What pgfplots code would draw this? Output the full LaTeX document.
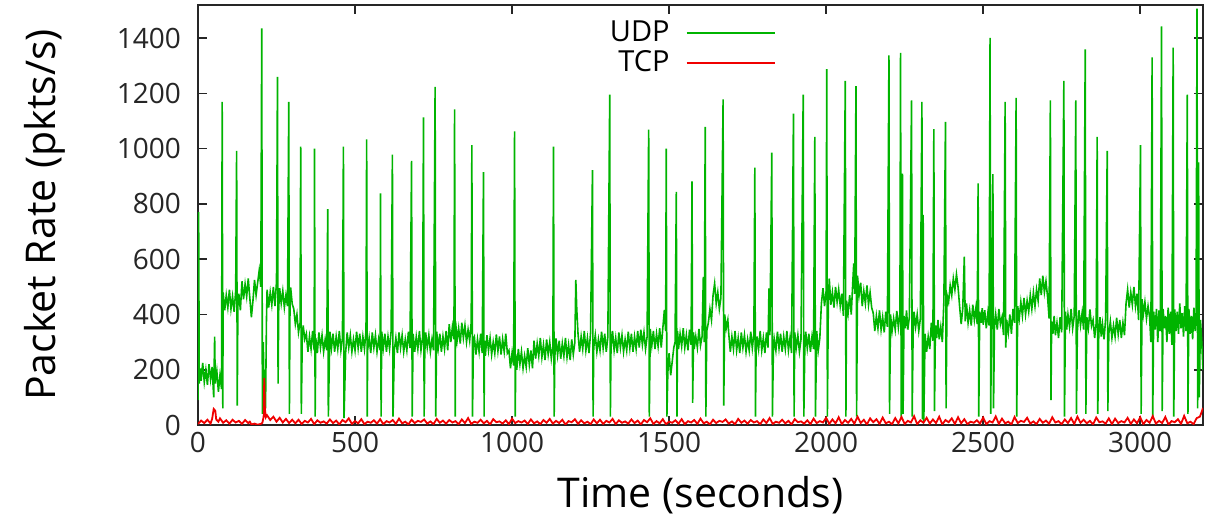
\documentclass[border=0pt]{standalone}
\usepackage{fontspec}
\setmainfont{Open Sans}
\usepackage{pgfplots}
\pgfplotsset{compat=1.18}
\definecolor{udpgreen}{RGB}{0,180,0}
\definecolor{tcpred}{RGB}{240,0,0}
\begin{document}
\begin{tikzpicture}
\begin{axis}[
 name=ax,
 scale only axis, width=502.5pt, height=210pt,
 xmin=0, xmax=3200, ymin=0, ymax=1520,
 xtick={0,500,...,3000}, ytick={0,200,...,1400},
 tick align=inside, major tick length=4.5pt,
 axis line style={line width=0.8pt, black!85},
 every tick/.style={black!85, line width=0.8pt},
 /pgf/number format/assume math mode=true,
 /pgf/number format/1000 sep={},
 tick label style={font=\fontsize{14}{16}\selectfont, black!85},
 yticklabel style={xshift=-5pt},
 xlabel={Time (seconds)}, ylabel={Packet Rate (pkts/s)},
 label style={font=\fontsize{20.5}{24}\selectfont},
 xlabel style={at={(axis description cs:0.5,-0.167)}, anchor=center},
 ylabel style={at={(axis description cs:-0.1522,0.5)}, anchor=center},
 legend plot pos=right,
 legend cell align=right,
 legend style={draw=none, fill=none, at={(axis description cs:0.575,0.972)}, anchor=north east,
   font=\fontsize{14.5}{17}\selectfont, row sep=-1pt, inner sep=0pt, column sep=6pt},
 legend image code/.code={\draw[#1] (0pt,0pt) -- (44pt,0pt);},
]
\addlegendimage{udpgreen, line width=0.9pt}
\addlegendentry{UDP}
\addlegendimage{tcpred, line width=0.9pt}
\addlegendentry{TCP}
\addplot[udpgreen, line width=0.8pt, forget plot] coordinates {
(0,90) (2,770) (4,150) (7,205) (10,160) (15,225) (20,155) (25,200) (30,145) (35,220) (40,165) (45,210) (50,100) (53,320) (55,150) (60,195) (65,120) (70,180) (75,130) (77,1169) (79,60)
(80,480) (85,415) (90,470) (95,425) (100,490) (105,420) (110,465) (115,410) (120,485) (123,992) (125,70) (127,430) (130,475) (135,415)
(140,520) (145,455) (150,510) (155,465) (160,530) (165,460) (170,390) (175,450) (180,525) (185,470) (190,515) (195,560) (200,500) (203,1435) (205,40)
(208,300) (210,120) (213,200) (215,60) (218,380)
(220,490) (225,425) (230,480) (235,435) (240,500) (245,430) (250,520) (253,1260) (255,150) (257,420) (260,495) (265,440) (270,485) (275,425) (280,470) (285,430) (289,1169) (291,40) (293,438) (295,498) (300,438)
(305,420) (310,365) (315,400) (320,335) (325,370) (327,1007) (329,40) (332,320) (335,360) (340,310)
(345,330) (350,265) (355,320) (360,275) (365,340) (370,270) (371,1000) (373,30) (375,315) (380,260) (385,335) (390,280) (395,325) (400,265) (405,310) (410,270) (413,781) (415,30)
(420,338) (425,278) (430,330) (435,265) (440,320) (445,275) (450,340) (455,270) (460,315) (463,1007) (465,25) (470,260) (475,335) (480,280) (485,325) (490,265) (495,310) (500,270) (505,338) (510,278)
(515,330) (520,265) (525,320) (530,275) (535,340) (537,1034) (539,30) (540,270) (545,315) (550,260) (555,335) (560,280) (565,325) (570,265) (575,310) (580,270) (581,838) (583,30) (585,338) (590,278)
(595,330) (600,265) (605,320) (610,275) (615,340) (619,978) (621,30) (625,270) (630,315) (635,260) (640,335) (645,280) (650,325) (655,265) (660,310) (665,270) (670,338) (675,278) (680,956) (682,30)
(685,330) (690,265) (695,320) (700,275) (705,340) (710,270) (715,315) (718,1113) (720,30) (722,260) (725,335) (730,280) (735,325) (740,265) (745,310) (750,270) (755,1224) (757,30)
(760,338) (765,278) (770,330) (775,265) (780,320) (785,275) (790,340) (795,270)
(800,365) (805,300) (810,355) (815,310) (817,1142) (819,30) (820,375) (825,305) (830,350) (835,295) (840,370) (845,315) (850,360) (855,300) (860,345) (865,305) (870,373) (872,1013) (874,30) (877,313)
(880,320) (885,255) (890,310) (895,265) (900,330) (905,260) (909,915) (911,30) (912,305) (915,250) (920,325) (925,270) (930,315) (935,255) (940,300) (945,260) (950,328) (955,268) (960,320) (965,255) (970,310) (975,265) (980,330) (985,260)
(990,270) (995,205) (1000,260) (1005,215) (1008,1063) (1010,30) (1012,255) (1015,200) (1020,275) (1025,220) (1030,265) (1035,205) (1040,250) (1045,210) (1050,278) (1055,218) (1060,270) (1065,205)
(1070,305) (1075,240) (1080,295) (1085,250) (1090,315) (1095,245) (1100,290) (1105,235) (1110,310) (1115,255) (1120,300) (1125,240) (1130,285) (1132,1007) (1134,30) (1136,245) (1140,313) (1145,253)
(1150,305) (1155,240) (1160,295) (1165,250) (1170,315) (1175,245) (1180,290) (1185,235) (1190,310) (1195,255) (1200,300) (1203,525) (1206,420)
(1210,330) (1215,265) (1220,320) (1225,275) (1230,340) (1235,270) (1240,315) (1245,260) (1250,335) (1256,922) (1258,30) (1260,280) (1265,325) (1270,265) (1275,310) (1280,270) (1285,338) (1290,278)
(1295,330) (1300,265) (1305,320) (1311,1196) (1313,30) (1315,275) (1320,340) (1325,270) (1330,315) (1335,260) (1340,335) (1345,280) (1350,325) (1355,265) (1360,310) (1365,270) (1370,338) (1375,278)
(1380,330) (1385,265) (1390,320) (1395,275) (1400,340) (1405,280) (1410,345) (1415,290) (1420,335) (1425,275) (1430,320) (1435,1069) (1437,30) (1440,348) (1445,288) (1450,340) (1455,275) (1460,330) (1465,285) (1470,350) (1475,280)
(1480,350) (1485,416) (1489,340) (1491,1000) (1493,30) (1496,190) (1500,260) (1505,180) (1510,230) (1515,280) (1519,300)
(1523,844) (1525,30) (1527,340) (1530,275) (1535,330) (1540,285) (1545,350) (1550,280) (1555,325) (1560,270) (1565,345) (1570,290) (1573,882) (1575,80) (1578,335) (1580,275) (1585,320) (1590,280) (1595,348) (1600,288) (1605,320) (1609,536) (1612,300) (1615,1079) (1617,30) (1620,340)
(1625,370) (1630,420) (1635,380) (1640,470) (1645,512) (1650,440) (1655,480) (1660,420) (1665,460) (1672,1178) (1674,70) (1677,400) (1682,350) (1687,380)
(1690,330) (1695,265) (1700,320) (1705,275) (1710,340) (1715,270) (1720,315) (1725,260) (1730,335) (1735,280) (1740,325) (1745,265) (1750,310) (1755,270) (1760,338) (1765,278) (1770,330) (1773,931) (1775,30)
(1777,265) (1780,320) (1785,275) (1790,340) (1795,270) (1800,315) (1805,260) (1810,335) (1815,280) (1818,494) (1821,325) (1827,986) (1829,30) (1832,265) (1835,310) (1840,270) (1845,338) (1850,278)
(1855,330) (1860,265) (1865,320) (1870,275) (1875,340) (1880,270) (1885,315) (1890,260) (1896,1127) (1898,30) (1900,335) (1905,280) (1910,325) (1915,265) (1920,310) (1927,1196) (1929,30) (1932,270) (1935,338) (1940,278)
(1945,330) (1950,265) (1955,320) (1960,275) (1964,1043) (1966,30) (1970,340) (1975,270) (1980,315)
(1985,440) (1990,495) (1995,430) (2000,485) (2002,1288) (2004,30) (2007,440) (2010,530) (2015,435) (2020,480) (2025,425) (2030,500) (2035,445) (2040,490) (2045,430) (2050,475)
(2055,395) (2061,1245) (2063,30) (2065,450) (2070,405) (2075,470) (2080,400)
(2085,520) (2088,585) (2091,475) (2095,1226) (2097,30) (2100,540) (2105,470) (2110,515)
(2115,430) (2120,485) (2125,440) (2130,505) (2135,435) (2140,480) (2145,425)
(2150,405) (2155,340) (2160,395) (2165,350) (2170,415) (2175,345) (2180,390) (2185,335) (2190,410) (2195,355) (2200,1338) (2202,40) (2205,400) (2210,340) (2215,385) (2220,345) (2225,413) (2230,353) (2235,405)
(2237,1347) (2239,30) (2241,380) (2243,910) (2245,40) (2248,395) (2252,350) (2256,415) (2260,345) (2265,390) (2272,1175) (2274,30) (2277,335) (2280,410) (2285,355) (2290,400) (2295,340) (2300,385) (2305,1169) (2307,20) (2309,760) (2311,10)
(2315,330) (2320,265) (2325,320) (2330,275)
(2335,370) (2340,305) (2343,1071) (2345,50) (2348,360) (2352,315) (2356,380) (2360,310) (2365,355) (2370,300)
(2375,450) (2380,1097) (2382,60) (2385,470) (2390,445) (2395,505) (2400,470) (2405,530) (2410,490) (2415,545) (2420,500)
(2425,430) (2430,365) (2435,420) (2440,609) (2443,375) (2447,440) (2452,370) (2457,415) (2462,360) (2467,435) (2472,380) (2477,425) (2481,365) (2484,874) (2486,30) (2489,410) (2493,370)
(2497,423) (2500,363) (2505,415) (2510,350) (2515,405) (2519,360) (2522,1401) (2524,40) (2527,425) (2531,908) (2533,60) (2536,355) (2540,400) (2545,345) (2550,420) (2555,365)
(2560,390) (2565,325) (2570,1169) (2572,280) (2575,380) (2580,335) (2585,400) (2590,330)
(2595,420) (2600,370) (2605,1184) (2607,30) (2610,430) (2615,385) (2620,445) (2625,395) (2630,460) (2635,400) (2640,450) (2645,410) (2650,470) (2655,420) (2660,480) (2665,430) (2670,490) (2675,450)
(2680,530) (2685,470) (2690,540) (2695,480) (2700,520) (2705,465)
(2710,385) (2714,1175) (2716,90) (2718,375) (2722,330) (2726,395) (2730,325) (2735,370) (2740,315) (2745,390) (2750,335)
(2757,1245) (2759,30) (2762,410) (2766,345) (2770,400) (2775,355) (2780,420) (2785,350) (2790,395) (2795,1175) (2797,40) (2800,340) (2805,415) (2810,360) (2815,405) (2820,345) (2825,1359) (2827,40) (2830,390) (2835,350) (2840,418) (2845,358)
(2850,380) (2855,315) (2860,370) (2863,1043) (2865,40) (2868,325) (2872,390) (2876,320) (2880,365) (2885,310) (2890,385) (2895,992) (2897,50) (2900,330) (2905,375) (2910,315) (2915,360) (2920,320) (2925,388) (2930,328) (2935,380) (2940,315) (2945,370) (2950,325)
(2955,440) (2960,490) (2965,425) (2970,480) (2975,435) (2980,500) (2985,430) (2990,475)
(2995,380) (3001,1013) (3003,40) (3006,455) (3010,400) (3015,445) (3020,385) (3025,430) (3030,390)
(3034,300) (3038,1330) (3040,30) (3043,410) (3047,345) (3052,420) (3056,300) (3060,415) (3064,340) (3068,1443) (3070,50) (3073,420) (3077,350) (3081,395) (3085,300) (3089,425) (3093,330) (3097,410) (3101,290)
(3105,1366) (3107,30) (3110,418) (3114,340) (3118,410) (3122,330) (3126,440) (3130,350) (3134,405) (3138,320) (3142,430) (3146,340) (3150,1196) (3152,40) (3155,420) (3159,330) (3163,395) (3167,310) (3171,425) (3175,340) (3178,400)
(3181,1507) (3183,60) (3186,950) (3188,100) (3192,380) (3196,300) (3200,200)
};
\addplot[tcpred, line width=0.9pt, forget plot] coordinates {
(0,4) (10,16) (20,7) (30,19) (40,5) (45,22) (50,58) (55,52) (58,20) (65,12) (70,24) (80,8) (90,17) (100,5) (110,19) (120,9) (130,15) (140,4) (150,18) (160,7) (165,12) (170,2) (180,5) (190,1) (200,4) (205,8)
(209,30) (211,170) (213,60) (216,28) (220,35) (230,18) (240,30) (250,12) (260,26) (270,9) (280,22) (290,7) (300,19)
(310,6) (320,19) (330,4) (340,15) (350,9) (360,22) (370,3) (380,17) (390,8) (400,13) (410,5) (420,20) (430,7) (440,16) (450,2) (460,18) (470,10) (480,24) (490,4) (500,14) (510,6) (520,21) (530,3) (540,12)
(550,8) (560,17) (570,5) (580,21) (590,3) (600,14) (610,9) (620,18) (630,4) (640,23) (650,6) (660,12) (670,2) (680,19) (690,7) (700,15) (710,11) (720,20) (730,5) (740,13) (750,3) (760,22) (770,8) (780,16)
(790,5) (800,18) (810,9) (820,14) (830,3) (840,20) (850,7) (860,25) (870,4) (880,12) (890,8) (900,19) (910,6) (920,15) (930,2) (940,21) (950,10) (960,13) (970,5) (980,17) (990,3) (1000,23) (1010,7) (1020,14)
(1030,9) (1040,16) (1050,4) (1060,20) (1070,6) (1080,13) (1090,3) (1100,18) (1110,8) (1120,22) (1130,5) (1140,15) (1150,7) (1160,19) (1170,2) (1180,14) (1190,10) (1200,21) (1210,4) (1220,17) (1230,6) (1240,12) (1250,3) (1260,20)
(1270,6) (1280,19) (1290,4) (1300,15) (1310,9) (1320,22) (1330,3) (1340,17) (1350,8) (1360,13) (1370,5) (1380,20) (1390,7) (1400,16) (1410,2) (1420,18) (1430,10) (1440,24) (1450,4) (1460,14) (1470,6) (1480,21) (1490,3) (1500,12)
(1510,8) (1520,17) (1530,5) (1540,21) (1550,3) (1560,14) (1570,9) (1580,18) (1590,4) (1600,23) (1610,6) (1620,12) (1630,2) (1640,19) (1650,7) (1660,15) (1670,11) (1680,20) (1690,5) (1700,13) (1710,3) (1720,22) (1730,8) (1740,16)
(1750,5) (1760,18) (1770,9) (1780,14) (1790,3) (1800,20) (1810,7) (1820,25) (1830,4) (1840,12) (1850,8) (1860,19) (1870,6) (1880,15) (1890,2) (1900,21) (1910,10) (1920,13) (1930,5) (1940,17) (1950,3) (1960,23) (1970,7) (1980,14)
(1990,9) (2000,26) (2010,4) (2020,20) (2030,6) (2040,28) (2050,3) (2060,18) (2070,8) (2080,22) (2090,5) (2100,30) (2110,7) (2120,19) (2130,2) (2140,24) (2150,10) (2160,21) (2170,4) (2180,27) (2190,6) (2200,12) (2210,3) (2220,25)
(2230,6) (2240,29) (2250,4) (2260,15) (2270,9) (2280,32) (2290,3) (2300,17) (2310,8) (2320,26) (2330,5) (2340,20) (2350,7) (2360,30) (2370,2) (2380,18) (2390,10) (2400,24) (2410,4) (2420,28) (2430,6) (2440,21) (2450,3) (2460,12)
(2470,8) (2480,17) (2490,5) (2500,27) (2510,3) (2520,14) (2530,9) (2540,31) (2550,4) (2560,23) (2570,6) (2580,12) (2590,2) (2600,29) (2610,7) (2620,15) (2630,11) (2640,26) (2650,5) (2660,13) (2670,3) (2680,22) (2690,8) (2700,16)
(2710,5) (2720,28) (2730,9) (2740,14) (2750,3) (2760,20) (2770,7) (2780,25) (2790,4) (2800,30) (2810,8) (2820,19) (2830,6) (2840,15) (2850,2) (2860,27) (2870,10) (2880,13) (2890,5) (2900,24) (2910,3) (2920,23) (2930,7) (2940,14)
(2950,9) (2960,26) (2970,4) (2980,20) (2990,6) (3000,28) (3010,3) (3020,18) (3030,8) (3040,32) (3050,5) (3060,15) (3070,7) (3080,29) (3090,2) (3100,14) (3110,10) (3120,21) (3130,4) (3140,33) (3150,6) (3160,12) (3170,3) (3180,25)
(3190,30) (3195,45) (3200,62)
};
\end{axis}
\pgfresetboundingbox
\path[use as bounding box] ([xshift=-99pt,yshift=-48.5pt]ax.south west) rectangle ([xshift=6.5pt,yshift=2.5pt]ax.north east);
\end{tikzpicture}
\end{document}
